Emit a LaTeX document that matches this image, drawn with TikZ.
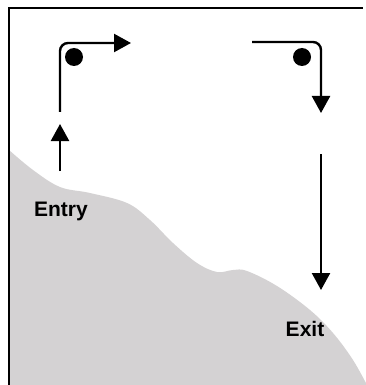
\documentclass[tikz,border=0pt]{standalone}
\usepackage{fontspec}
\setmainfont{Liberation Sans}
\usetikzlibrary{arrows.meta}
\definecolor{terrain}{RGB}{212,210,211}
\tikzset{
  flow/.style={line width=2.4pt,-{Triangle[length=17pt,width=18pt]},rounded corners=8pt},
  dotmark/.style={circle,fill=black,inner sep=0pt,minimum size=18pt},
  lbl/.style={anchor=base,inner sep=0pt,font=\fontsize{21}{25}\selectfont\bfseries},
  frame/.style={line width=2.2pt}
}
\begin{document}
\begin{tikzpicture}[x=1pt,y=-1pt]
\useasboundingbox (0,0) rectangle (366,385);
% terrain
\fill[terrain] plot[smooth,tension=0.6] coordinates {(9,150) (33,170) (60,187) (90,193) (127,203) (150,220) (173,243) (197,263) (217,272) (233,270) (247,271) (277,286) (310,310) (333,333) (353,360) (368,387)} -- (9,387) -- cycle;
% frame
\coordinate (fTL) at (9,8);
\coordinate (fBL) at (9,386);
\coordinate (fTR) at (363,8);
\draw[frame] (fBL) -- (fTL) -- (fTR);
% coordinates
\coordinate (e1) at (60,171);
\coordinate (e2) at (60,124);
\coordinate (a1) at (60,112);
\coordinate (a3) at (131,43);
\coordinate (b1) at (252,42);
\coordinate (b3) at (321,113);
\coordinate (c1) at (321,154);
\coordinate (c2) at (321,290);
% arrows
\draw[flow] (e1) -- (e2);
\draw[flow] (a1) |- (a3);
\draw[flow] (b1) -| (b3);
\draw[flow] (c1) -- (c2);
% dots
\node[dotmark] (d1) at (74,57) {};
\node[dotmark] (d2) at (302,57) {};
% labels
\node[lbl] (entry) at (61,216) {Entry};
\node[lbl] (exit) at (305,336) {Exit};
\end{tikzpicture}
\end{document}
